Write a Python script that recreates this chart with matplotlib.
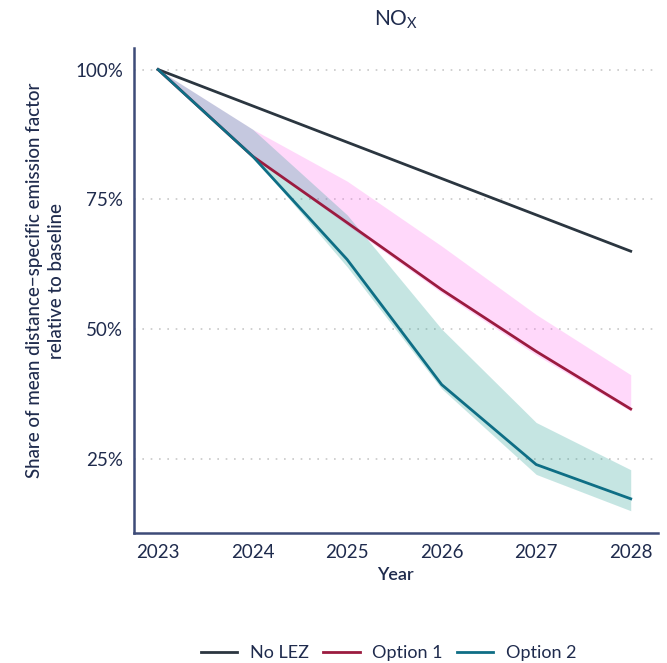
import matplotlib.pyplot as plt
from matplotlib.ticker import PercentFormatter

plt.rcParams['font.family'] = ['Lato', 'DejaVu Sans']

years = [2023, 2024, 2025, 2026, 2027, 2028]

no_lez = [100, 93, 86, 79, 72, 65]

option1 = [100, 83.3, 70.5, 57.6, 45.7, 34.6]
option1_low = [100, 83.3, 70.0, 57.0, 45.0, 34.2]
option1_high = [100, 88.5, 78.5, 66.0, 52.8, 41.2]

option2 = [100, 83.3, 63.4, 39.3, 23.9, 17.3]
option2_low = [100, 83.3, 62.0, 38.5, 22.0, 15.0]
option2_high = [100, 88.5, 72.0, 50.0, 32.0, 22.9]

yticks = [25, 50, 75, 100]

text_col = '#1f2b4d'
spine_col = '#3d4b78'
col_nolez = '#2b3640'
col_opt1 = '#9b1b3f'
col_opt2 = '#0e6e85'

fig = plt.figure(figsize=(6.67, 6.63), dpi=100)
ax = fig.add_axes([0.201, 0.196, 0.785, 0.732])

ax.fill_between(years, option1_low, option1_high, color='#ff66ee', alpha=0.25, lw=0)
ax.fill_between(years, option2_low, option2_high, color='#1a9a8f', alpha=0.25, lw=0)

ax.plot(years, no_lez, color=col_nolez, lw=2, label='No LEZ')
ax.plot(years, option1, color=col_opt1, lw=2, label='Option 1')
ax.plot(years, option2, color=col_opt2, lw=2, label='Option 2')

ax.set_xlim(2022.746, 2028.285)
ax.set_ylim(10.7, 104.2)
ax.set_xticks(years)
ax.set_yticks(yticks)
ax.yaxis.set_major_formatter(PercentFormatter(decimals=0))
ax.grid(axis='y', color='#c8c8c8', linestyle=(0, (1, 4)), lw=1.2)
ax.set_axisbelow(True)

for side in ('top', 'right'):
    ax.spines[side].set_visible(False)
for side in ('left', 'bottom'):
    ax.spines[side].set_color(spine_col)
    ax.spines[side].set_linewidth(1.8)

ax.tick_params(length=0, labelsize=13.5, colors=text_col, pad=8)

ax.set_title(r'NO$_\mathregular{X}$', fontsize=15, color=text_col, pad=16)
ax.set_xlabel('Year', fontsize=13, color=text_col, fontweight='semibold', labelpad=4)
ax.set_ylabel('Share of mean distance\u2212specific emission factor\nrelative to baseline',
              fontsize=13.5, color=text_col, fontweight='medium', linespacing=1.35)
ax.yaxis.set_label_coords(-0.132, 0.52)

fig.legend(loc='lower center', bbox_to_anchor=(0.583, -0.022), ncol=3, frameon=False,
           fontsize=13, labelcolor=text_col, handlelength=2.0, columnspacing=0.8,
           handletextpad=0.7)

fig.savefig('out.png', dpi=100)
